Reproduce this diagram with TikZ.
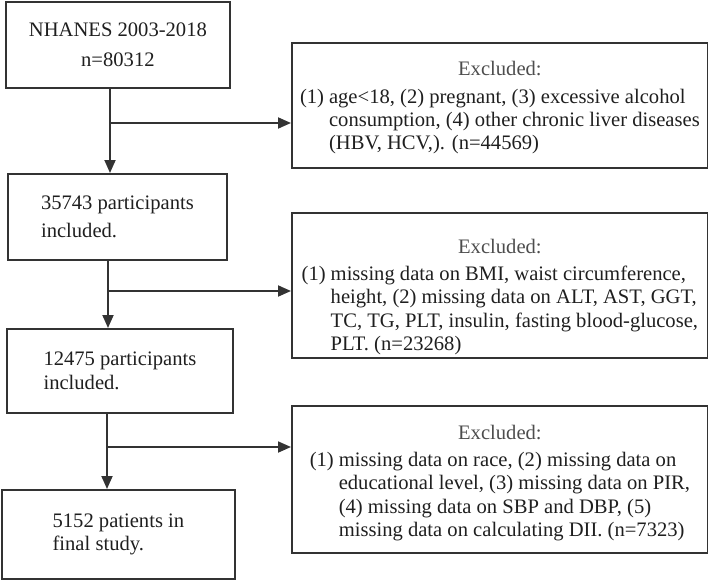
\documentclass[tikz,border=0pt]{standalone}
\usepackage{fontspec}
\setmainfont{Liberation Serif}
\usepackage{xcolor}
\usetikzlibrary{positioning, arrows.meta}
\definecolor{inkgray}{HTML}{333333}
\definecolor{labelgray}{HTML}{4D4D4D}
\tikzset{
  stagebox/.style={draw=inkgray, line width=1.8pt, inner sep=0pt, align=left,
    text=black!88, font=\fontsize{20.6}{23.4}\selectfont, anchor=north west},
  exbox/.style={draw=inkgray, line width=1.8pt, inner sep=0pt, minimum width=416pt,
    text=black!88, font=\fontsize{20.6}{23.4}\selectfont, anchor=north west},
  flow/.style={draw=inkgray, line width=1.8pt, -{Triangle[length=13pt,width=11pt]}},
}
\newcommand{\exclist}[2][]{%
  \begin{tabular}{@{}l@{\hspace{5pt}}l@{}}
    \multicolumn{2}{c}{#1\color{labelgray}Excluded:}\\[4pt]
    (1) & #2
  \end{tabular}}

\begin{document}
\begin{tikzpicture}[x=1pt, y=-1pt]
    \useasboundingbox (0,0) rectangle (708,580);

    % Left column
    \node[stagebox, align=center, minimum width=224pt, minimum height=86pt] (src) at (5,1)
        {NHANES 2003-2018\\[7pt] n=80312};
    \node[stagebox, minimum width=219pt, minimum height=86pt] (inc1) at (7,173)
        {35743 participants\\[4pt] included.};
    \node[stagebox, minimum width=226pt, minimum height=84pt] (inc2) at (6,328)
        {12475 participants\\ included.};
    \node[stagebox, minimum width=233pt, minimum height=89pt] (final) at (1,489)
        {5152 patients in\\ final study.};

    % Exclusion boxes
    \node[exbox, minimum height=125pt] (ex1) at (291,42)
        {\exclist[\rule{0pt}{22pt}]{age<18, (2) pregnant, (3) excessive alcohol\\
          & consumption, (4) other chronic liver diseases\\
          & (HBV, HCV,). (n=44569)}};
    \node[exbox, minimum height=145pt] (ex2) at (291,212)
        {\exclist[\rule{0pt}{40pt}]{missing data on BMI, waist circumference,\\
          & height, (2) missing data on ALT, AST, GGT,\\
          & TC, TG, PLT, insulin, fasting blood-glucose,\\
          & PLT. (n=23268)}};
    \node[exbox, minimum height=147pt] (ex3) at (291,405)
        {\exclist[\rule{0pt}{24pt}]{missing data on race, (2) missing data on\\
          & educational level, (3) missing data on PIR,\\
          & (4) missing data on SBP and DBP, (5)\\
          & missing data on calculating DII. (n=7323)}};

    % Junctions
    \coordinate (j1) at (110,123);
    \coordinate (j2) at (108,291);
    \coordinate (j3) at (107,447);

    % Connectors
    \draw[flow] (src.south -| j1) -- (inc1.north -| j1);
    \draw[flow] (j1) -- (j1 -| ex1.west);
    \draw[flow] (inc1.south -| j2) -- (inc2.north -| j2);
    \draw[flow] (j2) -- (j2 -| ex2.west);
    \draw[flow] (inc2.south -| j3) -- (final.north -| j3);
    \draw[flow] (j3) -- (j3 -| ex3.west);
\end{tikzpicture}
\end{document}
